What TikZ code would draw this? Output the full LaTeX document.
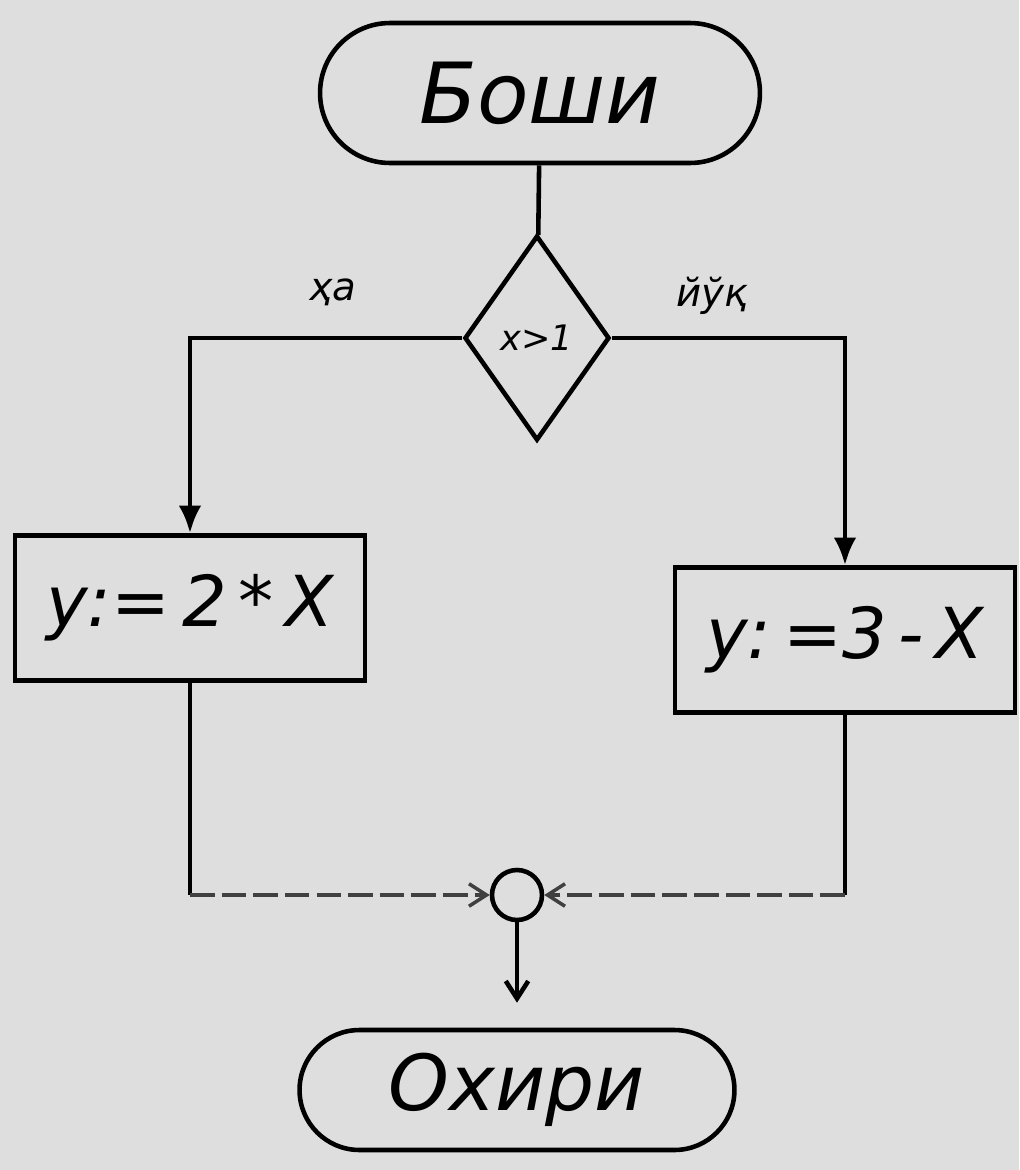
\documentclass[tikz,border=0pt]{standalone}
\usepackage{fontspec}
\setmainfont{DejaVu Sans}
\usetikzlibrary{shapes.geometric,arrows.meta}
\begin{document}
\begin{tikzpicture}[x=0.02cm,y=-0.02cm,
  line width=2.6pt,
  every node/.style={font=\itshape},
  term/.style={draw,rounded corners=1.4cm,minimum width=8.8cm,minimum height=2.8cm,inner sep=0pt},
  proc/.style={draw,minimum height=2.9cm,inner sep=0pt},
  dec/.style={draw,diamond,minimum width=2.9cm,minimum height=4.1cm,inner sep=0pt},
  junc/.style={draw,circle,minimum size=1.0cm,inner sep=0pt},
  lbl/.style={font=\itshape\fontsize{22}{24}\selectfont},
  arr/.style={-{Latex[length=0.55cm,width=0.45cm]}},
  arrb/.style={-{Straight Barb[length=0.35cm,width=0.45cm]}},
  faint/.style={dashed,dash pattern=on 14pt off 4pt,black!75,line width=2pt}]
\useasboundingbox (0,0) rectangle (1019,1170);
\fill[black!13] (0,0) rectangle (1019,1170);
\node[term] (start) at (540,93) {\fontsize{48}{50}\selectfont Боши};
\node[dec] (cond) at (537,338) {\fontsize{20}{22}\selectfont x>1};
\node[proc,minimum width=7.0cm] (b1) at (190,608) {\fontsize{40}{44}\selectfont y:=\,2\,*\,X};
\node[proc,minimum width=6.8cm] (b2) at (845,640) {\fontsize{40}{44}\selectfont y:\,=3\,-\,X};
\node[junc] (j) at (517,895) {};
\node[term,minimum width=8.7cm,minimum height=2.4cm,rounded corners=1.2cm] (end) at (517,1090) {\fontsize{44}{46}\selectfont Охири};
\node[lbl] (yes) at (333,292) {ҳа};
\node[lbl] (no) at (712,296) {йўқ};
\draw (start) -- (cond);
\draw[arr] (cond.west) -| (b1.north);
\draw[arr] (cond.east) -| (b2.north);
\draw (b1.south) -- (b1.south |- j.west);
\draw[faint,arrb] (b1.south |- j.west) -- (j.west);
\draw (b2.south) -- (b2.south |- j.east);
\draw[faint,arrb] (b2.south |- j.east) -- (j.east);
\draw[arrb,shorten >=0.5cm] (j) -- (end);
\end{tikzpicture}
\end{document}
